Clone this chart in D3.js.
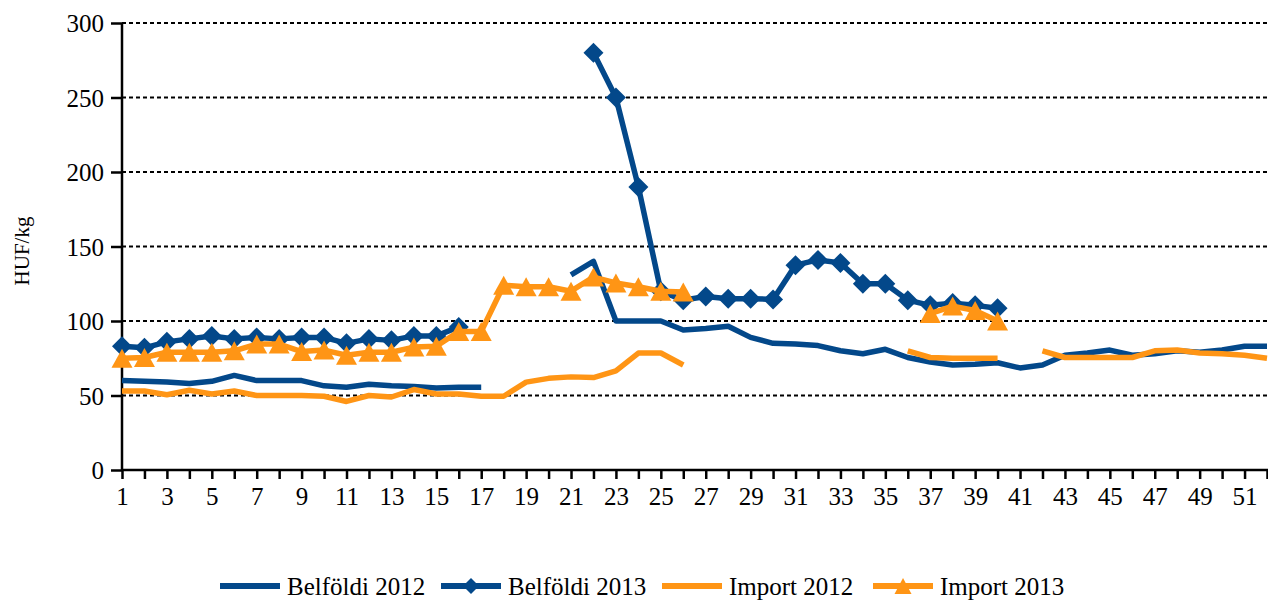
<!DOCTYPE html>
<html><head><meta charset="utf-8">
<script src="https://cdn.jsdelivr.net/npm/d3@7"></script>
<style>
html,body{margin:0;padding:0;background:#fff;}
svg{display:block;font-family:"Liberation Serif","Times New Roman",serif;}
</style></head>
<body>
<svg id="chart" width="1268" height="603"></svg>
<script>
const weeks = d3.range(1, 53);
const xTickLabels = d3.range(1, 52, 2);
const yTicks = [0, 50, 100, 150, 200, 250, 300];
const seriesNames = ["Belföldi 2012", "Belföldi 2013", "Import 2012", "Import 2013"];

const belfoldi2012 = [60,59.5,59,58,59.5,63.5,60,60,60,56.5,55.5,57.5,56.5,56,55,55.5,55.5,
  null,null,null,
  131,140,100,100,100,94,95,96.5,89,85,84.5,83.5,80,78,81,75.5,72.5,70.5,71,72,68.5,70.5,77,78.5,80.5,77,78,80,79,80.5,83,83];
const belfoldi2013 = [83,82,86,88,90,88,89,88,89,89,85,88,87,90,90,96,
  null,null,null,null,null,
  280,250,190,120,114,116.5,115,115,114.5,137.5,141,139,125,125,114,110.5,112,110.5,108.5,
  null,null,null,null,null,null,null,null,null,null,null,null];
const import2012 = [53,53,50.5,53.5,51,53,50,50,50,49.5,46,50,49,54,51,51,49.5,49.5,59,61.5,62.5,62,66.5,78.5,78.5,70.5,
  null,null,null,null,null,null,null,null,null,
  80,75.5,75,75,75,
  null,
  80,75.5,75.5,75.5,75.5,80,80.5,78.5,78,77,75];
const import2013 = [75,75.5,79,79,79,80,84.5,84.5,79.5,80.5,77,79,79,82.5,83,93,93,
  124,123,123,120,129.5,125.5,123,120,119.5,
  null,null,null,null,null,null,null,null,null,null,
  105,110,107,100,
  null,null,null,null,null,null,null,null,null,null,null,null];

const BLUE = "#03488a", ORANGE = "#ff9515";
const series = [
  {name: seriesNames[0], values: belfoldi2012, color: BLUE, marker: null},
  {name: seriesNames[1], values: belfoldi2013, color: BLUE, marker: "diamond"},
  {name: seriesNames[2], values: import2012, color: ORANGE, marker: null},
  {name: seriesNames[3], values: import2013, color: ORANGE, marker: "triangle"}
];

const svg = d3.select("#chart");
const mLeft = 122, mRight = 1267, mTop = 23, mBottom = 470;
const x = d3.scaleLinear().domain([1, 52]).range([mLeft, mRight]);
const y = d3.scaleLinear().domain([0, 300]).range([mBottom, mTop]);

// gridlines
svg.append("g").selectAll("line").data(yTicks.filter(t => t > 0)).join("line")
  .attr("x1", mLeft).attr("x2", mRight + 1)
  .attr("y1", d => y(d)).attr("y2", d => y(d))
  .attr("stroke", "#000").attr("stroke-width", 2).attr("stroke-dasharray", "4,3");

// y axis
const yAxis = svg.append("g").attr("transform", `translate(${mLeft},0)`)
  .call(d3.axisLeft(y).tickValues(yTicks).tickSize(11).tickPadding(7).tickFormat(d3.format("d")));
yAxis.select(".domain").attr("stroke", "#000").attr("stroke-width", 2.5).attr("d", `M0,${mTop}V${mBottom}`);
yAxis.selectAll(".tick line").attr("stroke", "#000").attr("stroke-width", 2.5);
yAxis.selectAll("text").attr("font-size", 25).attr("fill", "#000")
  .attr("font-family", "Liberation Serif").attr("dy", "0.34em");

// x axis
const xAxis = svg.append("g").attr("transform", `translate(0,${mBottom})`)
  .call(d3.axisBottom(x).tickValues(weeks).tickSize(9).tickPadding(8)
    .tickFormat(d => xTickLabels.includes(d) ? d : ""));
xAxis.select(".domain").attr("stroke", "#000").attr("stroke-width", 2.5).attr("d", `M${mLeft},0H${mRight + 1}`);
xAxis.selectAll(".tick line").attr("stroke", "#000").attr("stroke-width", 2.5);
xAxis.selectAll("text").attr("font-size", 25).attr("fill", "#000")
  .attr("font-family", "Liberation Serif").attr("dy", "0.72em");

// y title
svg.append("text").attr("transform", "translate(29,251) rotate(-90)")
  .attr("text-anchor", "middle").attr("font-size", 21).text("HUF/kg");

const diamondPath = r => `M0,${-r}L${r},0L0,${r}L${-r},0Z`;
const trianglePath = (w, h) => `M0,${-h/2}L${w/2},${h/2}L${-w/2},${h/2}Z`;

const line = d3.line().defined(d => d.v != null).x(d => x(d.w)).y(d => y(d.v));
const plot = svg.append("g");
series.forEach(s => {
  const pts = weeks.map((w, i) => ({w, v: s.values[i]}));
  plot.append("path").datum(pts).attr("d", line).attr("fill", "none")
    .attr("stroke", s.color).attr("stroke-width", 5.5).attr("stroke-linejoin", "round");
  if (s.marker) {
    plot.append("g").selectAll("path").data(pts.filter(d => d.v != null)).join("path")
      .attr("transform", d => `translate(${x(d.w)},${y(d.v)})`)
      .attr("d", s.marker === "diamond" ? diamondPath(10) : trianglePath(21, 19))
      .attr("fill", s.color);
  }
});

// legend
const legendX = [220, 441, 662, 873];
const legY = 586;
const leg = svg.append("g");
series.forEach((s, i) => {
  const g = leg.append("g").attr("transform", `translate(${legendX[i]},${legY})`);
  g.append("line").attr("x1", 0).attr("x2", 60).attr("y1", 0).attr("y2", 0)
    .attr("stroke", s.color).attr("stroke-width", 6);
  if (s.marker) {
    g.append("path").attr("transform", "translate(30,0)")
      .attr("d", s.marker === "diamond" ? diamondPath(8) : trianglePath(17, 16))
      .attr("fill", s.color);
  }
  g.append("text").attr("x", 67).attr("y", 0).attr("dy", "0.35em")
    .attr("font-size", 25).attr("fill", "#000").text(s.name);
});
</script>
</body></html>
